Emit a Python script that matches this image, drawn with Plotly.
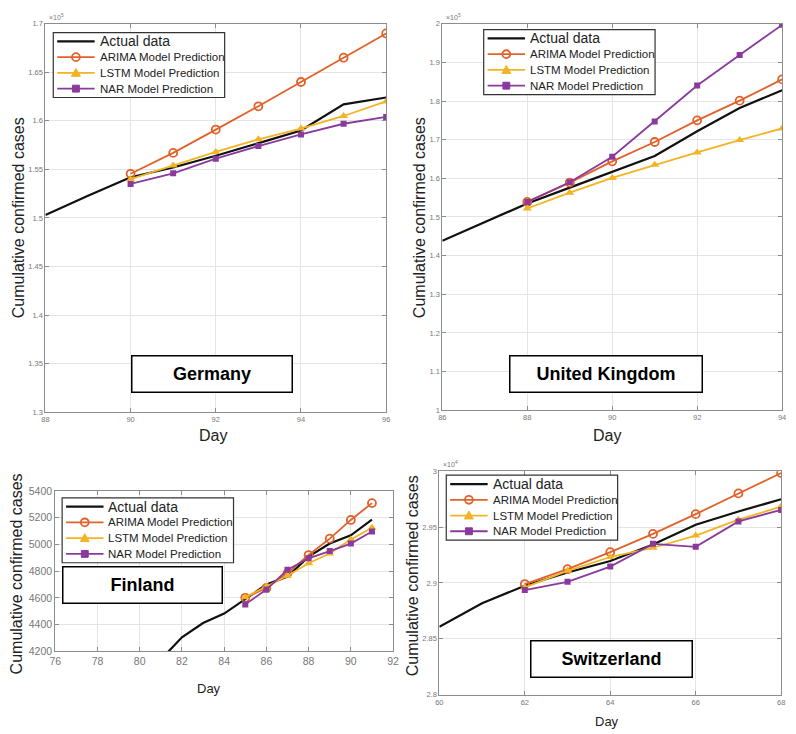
import plotly.graph_objects as go

W, H = 796, 734
FONT = "Liberation Sans, Arial, sans-serif"

# ---------------- data ----------------
# Germany (x 10^5 cases)
de_days_actual = [88, 89, 90, 91, 92, 93, 94, 95, 96]
de_actual = [1.503, 1.523, 1.542, 1.552, 1.564, 1.577, 1.590, 1.617, 1.624]
de_days_pred = [90, 91, 92, 93, 94, 95, 96]
de_arima = [1.5455, 1.567, 1.591, 1.615, 1.640, 1.665, 1.690]
de_lstm = [1.540, 1.554, 1.568, 1.581, 1.592, 1.605, 1.620]
de_nar = [1.535, 1.546, 1.561, 1.574, 1.586, 1.597, 1.604]
de_xticks = [88, 90, 92, 94, 96]
de_yticks = [1.3, 1.35, 1.4, 1.45, 1.5, 1.55, 1.6, 1.65, 1.7]
de_yticktext = ["1.3", "1.35", "1.4", "1.45", "1.5", "1.55", "1.6", "1.65", "1.7"]

# United Kingdom (x 10^5 cases)
uk_days_actual = [86, 87, 88, 89, 90, 91, 92, 93, 94]
uk_actual = [1.4385, 1.487, 1.535, 1.576, 1.616, 1.658, 1.722, 1.782, 1.828]
uk_days_pred = [88, 89, 90, 91, 92, 93, 94]
uk_arima = [1.539, 1.589, 1.644, 1.694, 1.750, 1.801, 1.856]
uk_lstm = [1.522, 1.563, 1.601, 1.635, 1.667, 1.699, 1.729]
uk_nar = [1.539, 1.590, 1.656, 1.747, 1.840, 1.919, 1.997]
uk_xticks = [86, 88, 90, 92, 94]
uk_yticks = [1.0, 1.1, 1.2, 1.3, 1.4, 1.5, 1.6, 1.7, 1.8, 1.9, 2.0]
uk_yticktext = ["1", "1.1", "1.2", "1.3", "1.4", "1.5", "1.6", "1.7", "1.8", "1.9", "2"]

# Finland (cases)
fi_days_actual = [80, 81, 82, 83, 84, 85, 86, 87, 88, 89, 90, 91]
fi_actual = [3950, 4138, 4305, 4411, 4482, 4588, 4699, 4760, 4908, 5006, 5068, 5186]
fi_days_pred = [85, 86, 87, 88, 89, 90, 91]
fi_arima = [4600, 4674, 4785, 4920, 5043, 5183, 5309]
fi_lstm = [4605, 4686, 4765, 4859, 4932, 5036, 5125]
fi_nar = [4551, 4662, 4810, 4896, 4950, 5006, 5097]
fi_xticks = [76, 78, 80, 82, 84, 86, 88, 90, 92]
fi_yticks = [4200, 4400, 4600, 4800, 5000, 5200, 5400]
fi_yticktext = ["4200", "4400", "4600", "4800", "5000", "5200", "5400"]

# Switzerland (x 10^4 cases)
ch_days_actual = [60, 61, 62, 63, 64, 65, 66, 67, 68]
ch_actual = [2.8606, 2.8818, 2.8975, 2.9093, 2.9196, 2.9344, 2.9521, 2.964, 2.9749]
ch_days_pred = [62, 63, 64, 65, 66, 67, 68]
ch_arima = [2.899, 2.9123, 2.9276, 2.9439, 2.9616, 2.9802, 2.9985]
ch_lstm = [2.896, 2.9108, 2.9232, 2.9315, 2.9424, 2.9566, 2.9684]
ch_nar = [2.8936, 2.901, 2.9146, 2.935, 2.9323, 2.9551, 2.9654]
ch_xticks = [60, 62, 64, 66, 68]
ch_yticks = [2.8, 2.85, 2.9, 2.95, 3.0]
ch_yticktext = ["2.8", "2.85", "2.9", "2.95", "3"]

series_names = ["Actual data", "ARIMA Model Prediction", "LSTM Model Prediction", "NAR Model Prediction"]
countries = ["Germany", "United Kingdom", "Finland", "Switzerland"]

# ---------------- styling / layout ----------------
C_ACT, C_ARIMA, C_LSTM, C_NAR = "#111111", "#E0622A", "#F2B324", "#8A3A9C"
COLORS = [C_ACT, C_ARIMA, C_LSTM, C_NAR]


def fx(p):
    return p / W


def fy(p):
    return 1 - p / H


panels = [
    dict(name=countries[0], da=de_days_actual, a=de_actual, dp=de_days_pred,
         ar=de_arima, ls=de_lstm, na=de_nar,
         xt=de_xticks, yt=de_yticks, ytt=de_yticktext,
         xr=[88, 96], yr=[1.3, 1.7], box=(40, 386, 18, 413), tick=7.5,
         exp="×10<sup>5</sup>", leg=(48, 27), lab=(128, 290, 355, 393),
         ytitle=(13, 215, 16), xtitle=(210, 437, 16)),
    dict(name=countries[1], da=uk_days_actual, a=uk_actual, dp=uk_days_pred,
         ar=uk_arima, ls=uk_lstm, na=uk_nar,
         xt=uk_xticks, yt=uk_yticks, ytt=uk_yticktext,
         xr=[86, 94], yr=[1.0, 2.0], box=(443, 788, 18, 411), tick=7.5,
         exp="×10<sup>5</sup>", leg=(485, 24), lab=(512, 706, 355, 393),
         ytitle=(420, 215, 16), xtitle=(610, 437, 16)),
    dict(name=countries[2], da=fi_days_actual, a=fi_actual, dp=fi_days_pred,
         ar=fi_arima, ls=fi_lstm, na=fi_nar,
         xt=fi_xticks, yt=fi_yticks, ytt=fi_yticktext,
         xr=[76, 92], yr=[4200, 5400], box=(50, 393, 493, 656), tick=10.5,
         exp=None, leg=(57, 500), lab=(58, 219, 570, 608),
         ytitle=(11, 577, 16), xtitle=(206, 694, 13)),
    dict(name=countries[3], da=ch_days_actual, a=ch_actual, dp=ch_days_pred,
         ar=ch_arima, ls=ch_lstm, na=ch_nar,
         xt=ch_xticks, yt=ch_yticks, ytt=ch_yticktext,
         xr=[60, 68], yr=[2.8, 3.0], box=(440, 787, 473, 700), tick=7.5,
         exp="×10<sup>4</sup>", leg=(447, 477), lab=(533, 696, 645, 683),
         ytitle=(413, 579, 16), xtitle=(610, 727, 13)),
]

fig = go.Figure()
annotations = []
shapes = []
layout = dict(
    width=W, height=H, autosize=False,
    margin=dict(l=0, r=0, t=0, b=0),
    paper_bgcolor="white", plot_bgcolor="white",
    font=dict(family=FONT, color="#222"),
    showlegend=False,
)

LEG_W, LEG_H = 174, 66
LEG_ROWS = [9, 25, 41, 57]

for i, p in enumerate(panels):
    k = "" if i == 0 else str(i + 1)
    xa, ya = "x" + k, "y" + k
    x0, x1, y0, y1 = p["box"]

    styles = [
        dict(mode="lines", line=dict(color=C_ACT, width=2.2)),
        dict(mode="lines+markers", line=dict(color=C_ARIMA, width=1.8),
             marker=dict(symbol="circle-open", size=8, color=C_ARIMA, line=dict(width=1.8))),
        dict(mode="lines+markers", line=dict(color=C_LSTM, width=1.8),
             marker=dict(symbol="triangle-up", size=8, color=C_LSTM)),
        dict(mode="lines+markers", line=dict(color=C_NAR, width=1.8),
             marker=dict(symbol="square", size=6, color=C_NAR)),
    ]
    xs = [p["da"], p["dp"], p["dp"], p["dp"]]
    ys = [p["a"], p["ar"], p["ls"], p["na"]]
    for j in range(4):
        fig.add_trace(go.Scatter(x=xs[j], y=ys[j], name=p["name"] + " - " + series_names[j],
                                 xaxis=xa, yaxis=ya, cliponaxis=True, **styles[j]))

    axcommon = dict(showline=True, linecolor="#8c8c8c", linewidth=1, mirror="ticks",
                    ticks="inside", ticklen=4, tickcolor="#8c8c8c",
                    showgrid=True, gridcolor="#e4e4e4", gridwidth=1, zeroline=False,
                    tickfont=dict(size=p["tick"], color="#777", family=FONT))
    layout["xaxis" + k] = dict(domain=[fx(x0), fx(x1)], range=p["xr"], anchor=ya,
                               tickvals=p["xt"], ticktext=[str(v) for v in p["xt"]],
                               **axcommon)
    layout["yaxis" + k] = dict(domain=[fy(y1), fy(y0)], range=p["yr"], anchor=xa,
                               tickvals=p["yt"], ticktext=p["ytt"], **axcommon)

    # ---- legend box (drawn as shapes + text, matching the original's compact legend) ----
    lx, ly = p["leg"]
    shapes.append(dict(type="rect", xref="paper", yref="paper", layer="above",
                       x0=fx(lx), x1=fx(lx + LEG_W), y0=fy(ly + LEG_H), y1=fy(ly),
                       line=dict(color="#333", width=1.2), fillcolor="white"))
    for j in range(4):
        cy = ly + LEG_ROWS[j]
        c = COLORS[j]
        sx0, sx1 = lx + 4, lx + 42
        cx = (sx0 + sx1) / 2
        shapes.append(dict(type="line", xref="paper", yref="paper", layer="above",
                           x0=fx(sx0), x1=fx(sx1), y0=fy(cy), y1=fy(cy),
                           line=dict(color=c, width=2.2 if j == 0 else 1.8)))
        if j == 1:
            shapes.append(dict(type="circle", xref="paper", yref="paper", layer="above",
                               x0=fx(cx - 4), x1=fx(cx + 4), y0=fy(cy + 4), y1=fy(cy - 4),
                               line=dict(color=c, width=1.8), fillcolor="rgba(0,0,0,0)"))
        elif j == 2:
            path = "M {:.5f},{:.5f} L {:.5f},{:.5f} L {:.5f},{:.5f} Z".format(
                fx(cx - 4.5), fy(cy + 3.5), fx(cx + 4.5), fy(cy + 3.5), fx(cx), fy(cy - 4.5))
            shapes.append(dict(type="path", xref="paper", yref="paper", layer="above",
                               path=path, line=dict(color=c, width=1), fillcolor=c))
        elif j == 3:
            shapes.append(dict(type="rect", xref="paper", yref="paper", layer="above",
                               x0=fx(cx - 3.5), x1=fx(cx + 3.5), y0=fy(cy + 3.5), y1=fy(cy - 3.5),
                               line=dict(color=c, width=1), fillcolor=c))
        annotations.append(dict(text=series_names[j], x=fx(lx + 45), y=fy(cy), xref="paper", yref="paper",
                                xanchor="left", yanchor="middle", showarrow=False,
                                font=dict(size=14 if j == 0 else 11.5, color="#222", family=FONT)))

    # exponent label
    if p["exp"]:
        annotations.append(dict(text=p["exp"], x=fx(x0 + 2), y=fy(y0 - 1), xref="paper", yref="paper",
                                xanchor="left", yanchor="bottom", showarrow=False,
                                font=dict(size=7, color="#777", family=FONT)))
    # country label box
    bx0, bx1, by0, by1 = p["lab"]
    annotations.append(dict(text="<b>" + p["name"] + "</b>", x=fx((bx0 + bx1) / 2), y=fy((by0 + by1) / 2),
                            xref="paper", yref="paper", xanchor="center", yanchor="middle",
                            showarrow=False, width=bx1 - bx0 - 3, height=by1 - by0 - 3,
                            borderpad=0, bordercolor="#000", borderwidth=1.5, bgcolor="white",
                            font=dict(size=18, color="#000", family=FONT)))
    # axis titles
    tx, ty, ts = p["ytitle"]
    annotations.append(dict(text="Cumulative confirmed cases", x=fx(tx), y=fy(ty), xref="paper", yref="paper",
                            xanchor="center", yanchor="middle", textangle=-90, showarrow=False,
                            font=dict(size=ts, color="#222", family=FONT)))
    dx, dy, ds = p["xtitle"]
    annotations.append(dict(text="Day", x=fx(dx), y=fy(dy), xref="paper", yref="paper",
                            xanchor="center", yanchor="middle", showarrow=False,
                            font=dict(size=ds, color="#222", family=FONT)))

layout["annotations"] = annotations
layout["shapes"] = shapes
fig.update_layout(**layout)

fig.write_html("out.html", config={"displayModeBar": False},
               post_script="document.body.style.margin='0';document.body.style.overflow='hidden';")
